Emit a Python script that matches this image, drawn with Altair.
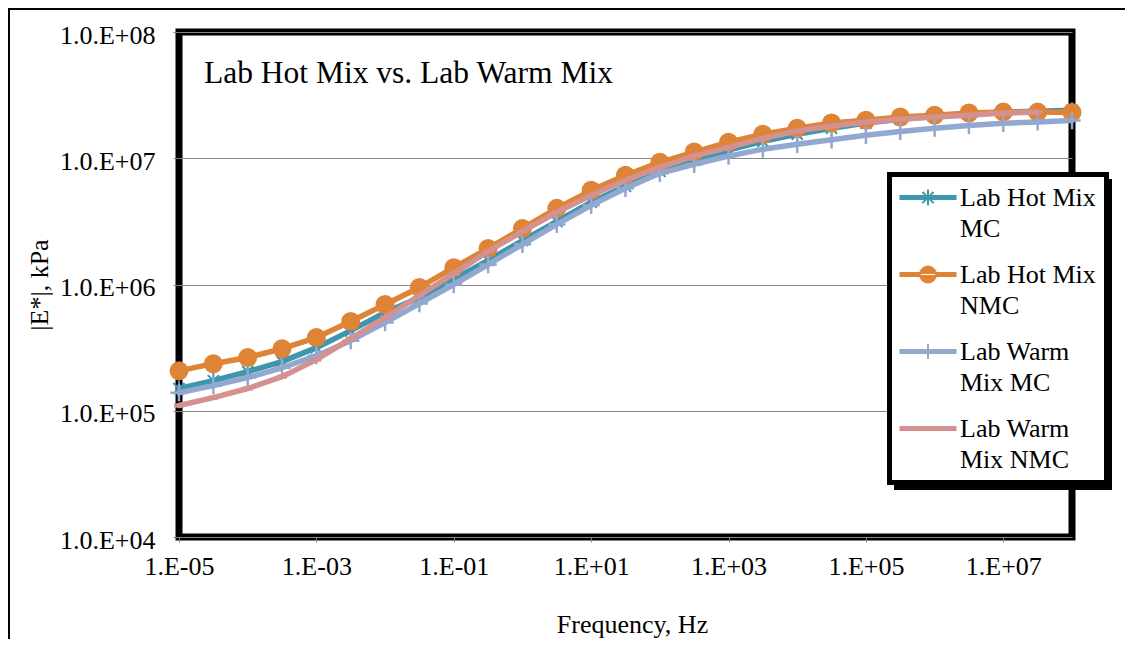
import altair as alt
import pandas as pd

# ---------------- data ----------------
frequency_hz = [1e-5, 3.16e-5, 1e-4, 3.16e-4, 1e-3, 3.16e-3, 1e-2, 3.16e-2, 1e-1, 3.16e-1,
                1.0, 3.16, 10.0, 31.6, 100.0, 316.0, 1e3, 3.16e3, 1e4, 3.16e4,
                1e5, 3.16e5, 1e6, 3.16e6, 1e7, 3.16e7, 1e8]

hot_mc = [1.50e5, 1.73e5, 2.04e5, 2.45e5, 3.16e5, 4.31e5, 6.00e5, 7.89e5, 1.10e6, 1.55e6,
          2.23e6, 3.16e6, 4.48e6, 6.00e6, 7.88e6, 9.64e6, 1.16e7, 1.36e7, 1.55e7, 1.73e7,
          1.90e7, 2.04e7, 2.15e7, 2.23e7, 2.32e7, 2.36e7, 2.40e7]
hot_nmc = [2.07e5, 2.36e5, 2.64e5, 3.10e5, 3.80e5, 5.09e5, 6.94e5, 9.47e5, 1.36e6, 1.93e6,
           2.78e6, 4.01e6, 5.57e6, 7.33e6, 9.29e6, 1.12e7, 1.34e7, 1.55e7, 1.73e7, 1.90e7,
           2.00e7, 2.12e7, 2.19e7, 2.28e7, 2.32e7, 2.32e7, 2.30e7]
warm_mc = [1.39e5, 1.58e5, 1.83e5, 2.19e5, 2.73e5, 3.59e5, 4.99e5, 7.07e5, 1.00e6, 1.44e6,
           2.08e6, 2.99e6, 4.24e6, 5.78e6, 7.60e6, 8.96e6, 1.04e7, 1.18e7, 1.29e7, 1.40e7,
           1.52e7, 1.63e7, 1.73e7, 1.82e7, 1.89e7, 1.94e7, 1.99e7]
warm_nmc = [1.10e5, 1.27e5, 1.50e5, 1.86e5, 2.54e5, 3.73e5, 5.47e5, 8.18e5, 1.22e6, 1.83e6,
            2.63e6, 3.73e6, 5.08e6, 6.69e6, 8.48e6, 1.04e7, 1.22e7, 1.44e7, 1.64e7, 1.80e7,
            1.93e7, 2.04e7, 2.12e7, 2.19e7, 2.28e7, 2.32e7]

series_names = ["Lab Hot Mix MC", "Lab Hot Mix NMC", "Lab Warm Mix MC", "Lab Warm Mix NMC"]
legend_lines = [["Lab Hot Mix", "MC"], ["Lab Hot Mix", "NMC"],
                ["Lab Warm", "Mix MC"], ["Lab Warm", "Mix NMC"]]
series_colors = ["#3E96AD", "#DF8437", "#92A8D1", "#D4918F"]
series_values = [hot_mc, hot_nmc, warm_mc, warm_nmc]

x_tick_values = [1e-5, 1e-3, 1e-1, 1e1, 1e3, 1e5, 1e7]
y_tick_values = [1e4, 1e5, 1e6, 1e7, 1e8]

chart_title = "Lab Hot Mix vs. Lab Warm Mix"
x_title = "Frequency, Hz"
y_title = "|E*|, kPa"

# ---------------- build table ----------------
rows = []
for name, vals in zip(series_names, series_values):
    for f, v in zip(frequency_hz, vals):
        rows.append({"series": name, "freq": f, "E": v})
df = pd.DataFrame(rows)

FONT = "Liberation Serif"
W, H = 893, 505

x_scale = alt.Scale(type="log", domain=[1e-5, 1e8], nice=False)
y_scale = alt.Scale(type="log", domain=[1e4, 1e8], nice=False)
color_scale = alt.Scale(domain=series_names, range=series_colors)

exp_x = "round(log(datum.value)/LN10)"
x_label_expr = ("'1.E' + (" + exp_x + " < 0 ? '-' : '+') + (abs(" + exp_x +
                ") < 10 ? '0' : '') + abs(" + exp_x + ")")
y_label_expr = "'1.0.E+' + (" + exp_x + " < 10 ? '0' : '') + " + exp_x

x_enc = alt.X("freq:Q", scale=x_scale, axis=alt.Axis(
    values=x_tick_values, labelExpr=x_label_expr, title=x_title, grid=False, domain=False,
    tickSize=5, tickColor="#808080", labelPadding=32, labelBaseline="alphabetic",
    labelFlush=False, labelOverlap=False, labelFont=FONT, labelFontSize=26, labelColor="black",
    titleFont=FONT, titleFontSize=26, titleFontWeight="normal", titleColor="black",
    titleX=453, titleY=95, titleBaseline="alphabetic"))
y_enc = alt.Y("E:Q", scale=y_scale, axis=alt.Axis(
    values=y_tick_values, labelExpr=y_label_expr, title=y_title, grid=True,
    gridColor="#868686", gridWidth=1, domain=False, tickSize=6, tickColor="#808080",
    labelPadding=18, labelBaseline="middle", labelOffset=3, labelFlush=False,
    labelOverlap=False, labelFont=FONT, labelFontSize=26, labelColor="black",
    titleFont=FONT, titleFontSize=26, titleFontWeight="normal", titleColor="black",
    titleX=-132, titleBaseline="alphabetic"))
c_enc = alt.Color("series:N", scale=color_scale, legend=None)

base = alt.Chart(df)

# markers per series (Excel-like)
star_path = "M-0.7,-0.7L0.7,0.7M-0.7,0.7L0.7,-0.7M0,-1L0,1"
plus_path = "M-1,0L1,0M0,-1L0,1"
dash_path = "M-1,0L1,0"
marker_defs = [
    dict(shape=star_path, filled=False, size=256, strokeWidth=2),
    dict(shape="circle", filled=True, size=361, strokeWidth=0),
    dict(shape=plus_path, filled=False, size=300, strokeWidth=2.5),
    dict(shape=dash_path, filled=False, size=100, strokeWidth=4),
]

# legend symbols = line + marker (path units: 1 unit = 12 px)
line_rect = "M-2.292,-0.125L2.292,-0.125L2.292,0.125L-2.292,0.125Z"
legend_paths = [
    line_rect + "M-0.467,-0.467L0.467,0.467M-0.467,0.467L0.467,-0.467M0,-0.667L0,0.667",
    line_rect + "M-0.667,0A0.667,0.667,0,1,0,0.667,0A0.667,0.667,0,1,0,-0.667,0Z",
    line_rect + "M0,-0.625L0,0.625",
    line_rect,
]

label_expr = " : ".join(
    "datum.label == '%s' ? ['%s', '%s']" % (n, l[0], l[1]) for n, l in zip(series_names, legend_lines)
) + " : datum.label"

leg = alt.Legend(orient="none", legendX=710.5, legendY=142.5, title=None,
                 strokeColor="black", fillColor="white", padding=10,
                 symbolSize=576, symbolStrokeWidth=2, symbolOpacity=1, symbolOffset=15.5,
                 labelFont=FONT, labelFontSize=26,
                 labelColor="black", labelOffset=19, rowPadding=20, labelLimit=400,
                 labelExpr=label_expr)
leg_scale_c = alt.Scale(domain=series_names, range=series_colors)
leg_scale_s = alt.Scale(domain=series_names, range=legend_paths)

layers = []

# outer chart-area frame and legend shadow (decoration)
one = alt.Chart(pd.DataFrame({"k": [0]}))
frame = one.mark_rect(fillOpacity=0, stroke="black", strokeWidth=2).encode(
    x=alt.value(-170), x2=alt.value(1100), y=alt.value(-23), y2=alt.value(800))
layers.append(frame)
shadow = one.mark_rect(color="black").encode(
    x=alt.value(715), x2=alt.value(933), y=alt.value(147), y2=alt.value(458))
layers.append(shadow)

# invisible layer that only carries the legend
legend_layer = base.mark_point(filled=True, fillOpacity=0, strokeOpacity=0, strokeWidth=2).encode(
    x=x_enc, y=y_enc,
    fill=alt.Fill("series:N", scale=leg_scale_c, legend=leg),
    stroke=alt.Stroke("series:N", scale=leg_scale_c, legend=leg),
    shape=alt.Shape("series:N", scale=leg_scale_s, legend=leg),
)
layers.append(legend_layer)

for name, mk in zip(series_names, marker_defs):
    sub = base.transform_filter(alt.datum.series == name)
    layers.append(sub.mark_line(strokeWidth=5.5, strokeCap="round", strokeJoin="round").encode(
        x=x_enc, y=y_enc, color=c_enc))
    layers.append(sub.mark_point(opacity=1, **mk).encode(x=x_enc, y=y_enc, color=c_enc))

title_layer = alt.Chart(pd.DataFrame({"t": [chart_title]})).mark_text(
    font=FONT, fontSize=31.5, align="left", baseline="middle", color="black").encode(
    text="t:N", x=alt.value(25), y=alt.value(42))
layers.append(title_layer)

chart = alt.layer(*layers).properties(
    width=W, height=H,
    padding={"left": 171, "top": 24, "right": 53, "bottom": 102},
    autosize=alt.AutoSizeParams(type="none"),
    background="white",
).configure(
    style={"guide-label": {"lineHeight": 31}}
).configure_view(
    stroke="black", strokeWidth=7
).configure_legend(strokeWidth=5)

chart.save("out.html", embed_options={"renderer": "svg", "actions": False})
